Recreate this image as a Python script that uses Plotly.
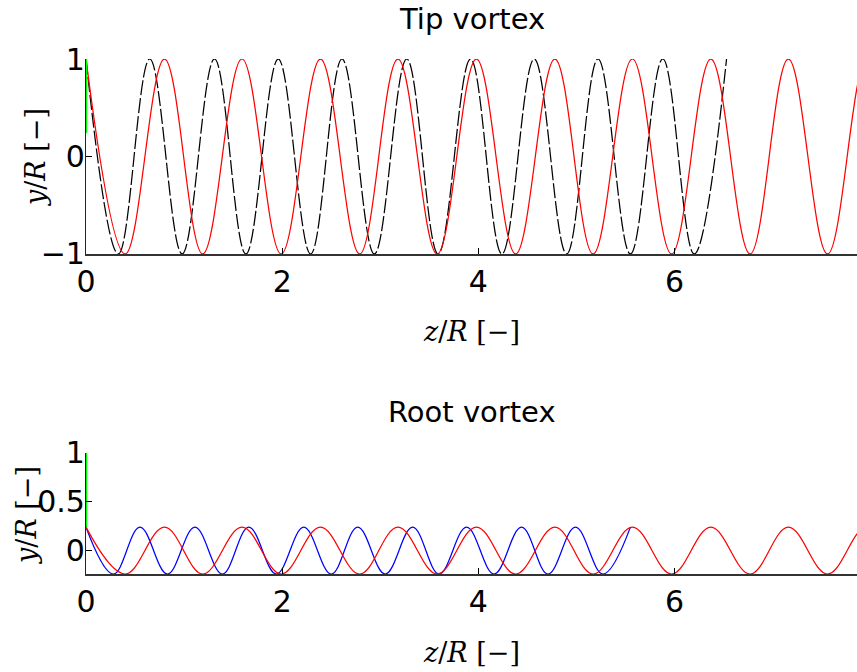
import plotly.graph_objects as go

# ---- data (extremum positions along z/R) ----
tip_black_z = [0.00, 0.33, 0.65, 0.98, 1.31, 1.63, 1.96, 2.29, 2.61, 2.94, 3.27,
               3.59, 3.92, 4.24, 4.57, 4.90, 5.22, 5.55, 5.88, 6.20, 6.53]
tip_black_y = [1, -1, 1, -1, 1, -1, 1, -1, 1, -1, 1,
               -1, 1, -1, 1, -1, 1, -1, 1, -1, 1]

# red helix continues past the right edge of the axes
tip_red_z = [0.00, 0.40, 0.80, 1.19, 1.59, 1.99, 2.39, 2.79, 3.18, 3.58, 3.98,
             4.38, 4.78, 5.17, 5.57, 5.97, 6.37, 6.77, 7.16, 7.56, 7.96, 8.36]
tip_red_y = [1, -1, 1, -1, 1, -1, 1, -1, 1, -1, 1,
             -1, 1, -1, 1, -1, 1, -1, 1, -1, 1, -1]

root_blue_z = [0.00, 0.28, 0.55, 0.83, 1.11, 1.39, 1.66, 1.94, 2.22, 2.50, 2.77,
               3.05, 3.33, 3.60, 3.88, 4.16, 4.44, 4.71, 4.99, 5.27, 5.55]
root_blue_y = [0.24, -0.24, 0.24, -0.24, 0.24, -0.24, 0.24, -0.24, 0.24, -0.24, 0.24,
               -0.24, 0.24, -0.24, 0.24, -0.24, 0.24, -0.24, 0.24, -0.24, 0.24]

root_red_z = [0.00, 0.40, 0.80, 1.19, 1.59, 1.99, 2.39, 2.79, 3.18, 3.58, 3.98,
              4.38, 4.78, 5.17, 5.57, 5.97, 6.37, 6.77, 7.16, 7.56, 7.96, 8.36]
root_red_y = [0.24, -0.24, 0.24, -0.24, 0.24, -0.24, 0.24, -0.24, 0.24, -0.24, 0.24,
              -0.24, 0.24, -0.24, 0.24, -0.24, 0.24, -0.24, 0.24, -0.24, 0.24, -0.24]

blade_z = [0.0, 0.0]
blade_y = [0.24, 1.0]

x_ticks = [0, 2, 4, 6]
tip_y_ticks = [-1, 0, 1]
root_y_ticks = [0, 0.5, 1]

titles = ["Tip vortex", "Root vortex"]
x_title = "<i>z</i>/<i>R</i> [−]"
y_title = "<i>y</i>/<i>R</i> [−]"

SM = 1.09
LW = 1.25
fig = go.Figure()
fig.add_trace(go.Scatter(x=tip_black_z, y=tip_black_y, mode="lines",
                         line=dict(color="black", width=LW, dash="15px,3px", shape="spline", smoothing=SM),
                         xaxis="x", yaxis="y", showlegend=False))
fig.add_trace(go.Scatter(x=tip_red_z, y=tip_red_y, mode="lines",
                         line=dict(color="#ff0000", width=LW, shape="spline", smoothing=SM),
                         xaxis="x", yaxis="y", showlegend=False))
fig.add_trace(go.Scatter(x=blade_z, y=blade_y, mode="lines",
                         line=dict(color="#00ff00", width=2.4),
                         xaxis="x", yaxis="y", showlegend=False))

fig.add_trace(go.Scatter(x=root_blue_z, y=root_blue_y, mode="lines",
                         line=dict(color="#0000ff", width=LW, shape="spline", smoothing=SM),
                         xaxis="x2", yaxis="y2", showlegend=False))
fig.add_trace(go.Scatter(x=root_red_z, y=root_red_y, mode="lines",
                         line=dict(color="#ff0000", width=LW, shape="spline", smoothing=SM),
                         xaxis="x2", yaxis="y2", showlegend=False))
fig.add_trace(go.Scatter(x=blade_z, y=blade_y, mode="lines",
                         line=dict(color="#00ff00", width=2.4),
                         xaxis="x2", yaxis="y2", showlegend=False))

tickfont = dict(family="DejaVu Sans", size=30, color="black")
common_x = dict(range=[0, 7.86], tickvals=x_ticks, ticks="inside", ticklen=6, tickcolor="black",
                showline=True, linecolor="#333333", linewidth=1.5, showgrid=False, zeroline=False,
                tickfont=tickfont, fixedrange=True)
common_y = dict(ticks="inside", ticklen=6, tickcolor="black", showline=True, linecolor="#222222",
                linewidth=1.2, showgrid=False, zeroline=False, tickfont=tickfont, ticklabelstandoff=-6)

fig.update_layout(
    width=857, height=672,
    margin=dict(l=86, r=0, t=59, b=98),
    paper_bgcolor="white", plot_bgcolor="white",
    xaxis=dict(domain=[0, 1], anchor="y", **common_x),
    yaxis=dict(domain=[0.6214, 1.0], anchor="x", range=[-1, 1], tickvals=tip_y_ticks, **common_y),
    xaxis2=dict(domain=[0, 1], anchor="y2", **common_x),
    yaxis2=dict(domain=[0.0, 0.2350], anchor="x2", range=[-0.24, 1], tickvals=root_y_ticks, **common_y),
)

title_font = dict(family="DejaVu Sans", size=29, color="black")
label_font = dict(family="DejaVu Serif", size=27, color="black")
ann = [
    dict(text=titles[0], x=0.5, y=1.0777, xref="paper", yref="paper", showarrow=False, font=title_font,
         xanchor="center", yanchor="middle"),
    dict(text=titles[1], x=0.5, y=0.3146, xref="paper", yref="paper", showarrow=False, font=title_font,
         xanchor="center", yanchor="middle"),
    dict(text=x_title, x=0.5, y=0.470, xref="paper", yref="paper", showarrow=False, font=label_font,
         xanchor="center", yanchor="middle"),
    dict(text=x_title, x=0.5, y=-0.1515, xref="paper", yref="paper", showarrow=False, font=label_font,
         xanchor="center", yanchor="middle"),
    dict(text=y_title, x=-0.0661, y=0.8097, xref="paper", yref="paper", showarrow=False, font=label_font,
         xanchor="center", yanchor="middle", textangle=-90),
    dict(text=y_title, x=-0.0765, y=0.1146, xref="paper", yref="paper", showarrow=False, font=label_font,
         xanchor="center", yanchor="middle", textangle=-90),
]
fig.update_layout(annotations=ann)

fig.write_html("out.html", config={"displayModeBar": False},
               post_script="document.body.style.margin='0';")
